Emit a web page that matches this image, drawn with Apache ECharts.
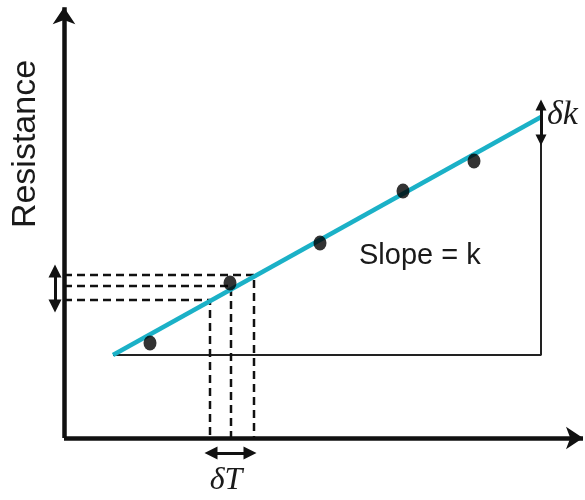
<!DOCTYPE html>
<html>
<head>
<meta charset="utf-8">
<style>
html,body{margin:0;padding:0;background:#fff;}
#chart{width:585px;height:500px;}
</style>
<script src="https://cdn.jsdelivr.net/npm/echarts@6/dist/echarts.min.js"></script>
</head>
<body>
<div id="chart"></div>
<script>
// Axis extents (data units; origin at the corner of the axes)
const axisXEnd = 103.8;
const axisYEnd = 107.7;

// Fitted line (two end points)
const fitX = [9.8, 95.4];
const fitY = [20.75, 80.25];

// Measured points
const pointX = [17.2, 33.2, 51.2, 67.8, 82.0];
const pointY = [23.75, 38.75, 48.75, 61.75, 69.25];

// Dashed guide lines (upper, middle, lower)
const dashX = [38.0, 33.4, 29.2];
const dashY = [40.75, 38.0, 34.5];

// Double arrows
const deltaRX = -1.8;             // left arrow on resistance axis
const deltaRY = [33.0, 41.75];
const deltaTY = -3.75;            // arrow under temperature axis
const deltaTX = [29.4, 37.2];
const deltaKY = [74.5, 83.25];    // arrow at the end of the fit

const fitColor = '#1bb1c7';
const ink = '#111';

const chart = echarts.init(document.getElementById('chart'));

const dashSeries = dashX.map((x, i) => ({
  type: 'line',
  data: [[0, dashY[i]], [x, dashY[i]], [x, 0]],
  showSymbol: false,
  silent: true,
  lineStyle: { color: ink, width: 2.5, type: [8, 5] },
  z: 2
}));

function dbl(a, b, size, width) {
  return [
    { coord: a, symbol: 'triangle', symbolSize: size, lineStyle: { color: ink, width: width, type: 'solid' } },
    { coord: b, symbol: 'triangle', symbolSize: size }
  ];
}

const option = {
  animation: false,
  grid: { left: 14, top: 2, width: 570, height: 496 },
  xAxis: { type: 'value', min: -10, max: 104, show: false },
  yAxis: { type: 'value', min: -15, max: 109, show: false },
  series: [
    // triangle frame
    {
      type: 'line',
      data: [[fitX[0], fitY[0]], [fitX[1], fitY[0]], [fitX[1], fitY[1]]],
      showSymbol: false, silent: true,
      lineStyle: { color: '#222', width: 2 },
      z: 1
    },
    ...dashSeries,
    // fitted line
    {
      type: 'line',
      data: [[fitX[0], fitY[0]], [fitX[1], fitY[1]]],
      showSymbol: false, silent: true,
      lineStyle: { color: fitColor, width: 4.5 },
      z: 3
    },
    // points
    {
      type: 'scatter',
      data: pointX.map((x, i) => [x, pointY[i]]),
      symbol: 'circle',
      symbolSize: [13, 15],
      itemStyle: { color: '#000' },
      silent: true,
      z: 4
    },
    // axes and arrows
    {
      type: 'line',
      data: [],
      silent: true,
      markLine: {
        silent: true,
        animation: false,
        label: { show: false },
        emphasis: { disabled: true },
        data: [
          [{ coord: [0, 0], symbol: 'none', lineStyle: { color: ink, width: 4.5, type: 'solid' } },
           { coord: [0, axisYEnd], symbol: 'arrow', symbolSize: 17 }],
          [{ coord: [0, 0], symbol: 'none', lineStyle: { color: ink, width: 4.5, type: 'solid' } },
           { coord: [axisXEnd, 0], symbol: 'arrow', symbolSize: 17 }],
          dbl([deltaRX, deltaRY[0]], [deltaRX, deltaRY[1]], 13, 3),
          dbl([deltaTX[0], deltaTY], [deltaTX[1], deltaTY], 13, 3),
          dbl([fitX[1], deltaKY[0]], [fitX[1], deltaKY[1]], 11, 3)
        ]
      },
      z: 5
    }
  ],
  graphic: [
    {
      type: 'text',
      x: 26, y: 144,
      rotation: Math.PI / 2,
      style: {
        text: 'Resistance',
        font: '34px "Liberation Sans", Arial, sans-serif',
        fill: '#1a1a1a',
        align: 'center',
        verticalAlign: 'middle'
      }
    },
    {
      type: 'text',
      x: 359, y: 256,
      style: {
        text: 'Slope = k',
        font: '29px "Liberation Sans", Arial, sans-serif',
        fill: '#1a1a1a',
        align: 'left',
        verticalAlign: 'middle'
      }
    },
    {
      type: 'text',
      x: 547, y: 115,
      style: {
        text: 'δk',
        font: 'italic 34px "Liberation Serif", "DejaVu Serif", serif',
        fill: '#1a1a1a',
        align: 'left',
        verticalAlign: 'middle'
      }
    },
    {
      type: 'text',
      x: 226, y: 481,
      style: {
        text: 'δT',
        font: 'italic 32px "Liberation Serif", "DejaVu Serif", serif',
        fill: '#1a1a1a',
        align: 'center',
        verticalAlign: 'middle'
      }
    }
  ]
};
chart.setOption(option);
</script>
</body>
</html>
